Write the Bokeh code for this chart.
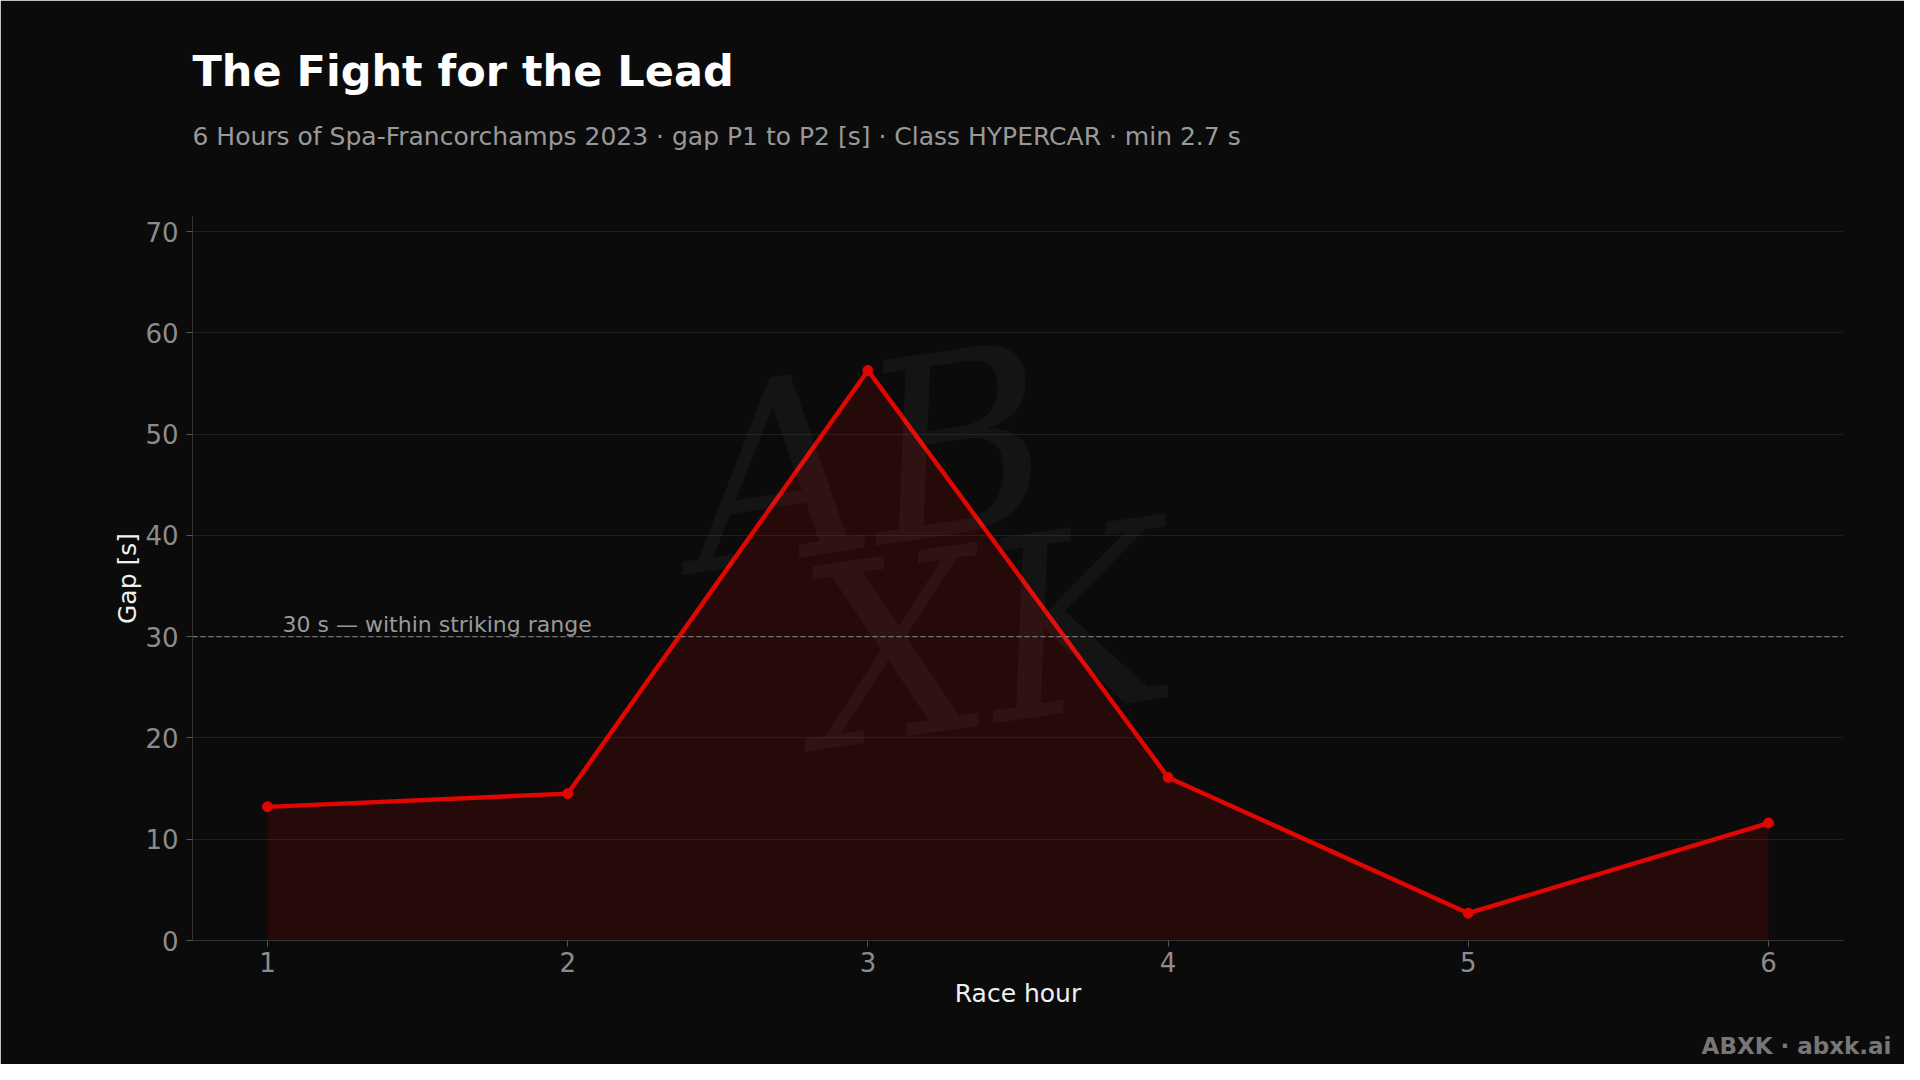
from bokeh.plotting import figure
from bokeh.models import Label, Span, FixedTicker, Range1d, ColumnDataSource, Title
from bokeh.embed import file_html
from bokeh.resources import INLINE

# ---- data ----
hours = [1, 2, 3, 4, 5, 6]
gap = [13.2, 14.5, 56.3, 16.1, 2.7, 11.6]
y_ticks = [0, 10, 20, 30, 40, 50, 60, 70]
x_ticks = [1, 2, 3, 4, 5, 6]
threshold = 30
threshold_label = "30 s \u2014 within striking range"
title_text = "The Fight for the Lead"
subtitle_text = "6 Hours of Spa-Francorchamps 2023 \u00b7 gap P1 to P2 [s] \u00b7 Class HYPERCAR \u00b7 min 2.7 s"
footer_text = "ABXK \u00b7 abxk.ai"

BG = "#0b0b0b"
RED = "#e10600"
FONT = "DejaVu Sans"

W, H = 1904, 1064
p = figure(width=W, height=H, output_backend="svg", toolbar_location=None,
           x_range=Range1d(0.75, 6.25), y_range=Range1d(0, 71.5),
           min_border_left=192, min_border_right=61,
           min_border_top=216, min_border_bottom=124)
p.background_fill_color = BG
p.border_fill_color = BG
p.outline_line_color = BG
p.outline_line_width = 2
p.outline_line_alpha = 1.0

src = ColumnDataSource(dict(x=hours, y=gap, base=[0] * len(hours)))

# watermark
for txt, wx, wy in [("AB", 3.0, 47.5), ("XK", 3.4, 30.0)]:
    p.add_layout(Label(x=wx, y=wy, text=txt, text_align="center", text_baseline="middle",
                       text_font="DejaVu Serif", text_font_style="italic",
                       text_font_size="250px", text_color="#ffffff", text_alpha=0.04, angle=0.15))

p.varea(x="x", y1="base", y2="y", source=src, fill_color=RED, fill_alpha=0.13)
p.line(x="x", y="y", source=src, line_color=RED, line_width=4.4)
p.scatter(x="x", y="y", source=src, size=10, fill_color=RED, line_color=RED)

p.add_layout(Span(location=threshold, dimension="width", line_color="#777777",
                  line_dash="5 3", line_width=1.3))
p.add_layout(Label(x=1.05, y=threshold, y_offset=12, text=threshold_label,
                   text_baseline="alphabetic", text_font=FONT, text_font_size="22px",
                   text_color="#9a9a9a"))

# axes
p.xaxis.ticker = FixedTicker(ticks=x_ticks)
p.yaxis.ticker = FixedTicker(ticks=y_ticks)
for ax in (p.xaxis[0], p.yaxis[0]):
    ax.axis_line_color = "#333333"
    ax.major_tick_line_color = "#555555"
    ax.major_tick_out = 6
    ax.major_tick_in = 0
    ax.minor_tick_line_color = None
    ax.major_label_text_font = FONT
    ax.major_label_text_font_size = "26px"
    ax.major_label_text_color = "#8c8c8c"
    ax.axis_label_text_font = FONT
    ax.axis_label_text_font_size = "25px"
    ax.axis_label_text_font_style = "normal"
    ax.axis_label_text_color = "#f0f0f0"
p.xaxis.axis_label = "Race hour"
p.yaxis.axis_label = "Gap [s]"
p.xaxis.major_label_standoff = 5
p.yaxis.major_label_standoff = 8
p.xaxis.axis_label_standoff = 4
p.yaxis.axis_label_standoff = 0

p.xgrid.grid_line_color = None
p.ygrid.grid_line_color = "#1e1e1e"
p.ygrid.grid_line_width = 1

# top panels, from the frame outwards: spacer, subtitle, title
p.add_layout(Title(text=" ", text_font_size="1px", standoff=63), "above")
p.add_layout(Title(text=subtitle_text, align="left", text_font=FONT, text_font_style="normal",
                   text_font_size="25px", text_color="#999999", standoff=0), "above")
p.add_layout(Title(text=title_text, align="left", text_font=FONT, text_font_style="bold",
                   text_font_size="43px", text_color="#ffffff", standoff=47), "above")
# bottom panels, below the x axis: spacer, footer
p.add_layout(Title(text=" ", text_font_size="1px", standoff=17), "below")
p.add_layout(Title(text=footer_text, align="right", text_font=FONT, text_font_style="bold",
                   text_font_size="23px", text_color="#777777", standoff=0, offset=-48), "below")

open("out.html", "w").write(file_html(p, INLINE))
